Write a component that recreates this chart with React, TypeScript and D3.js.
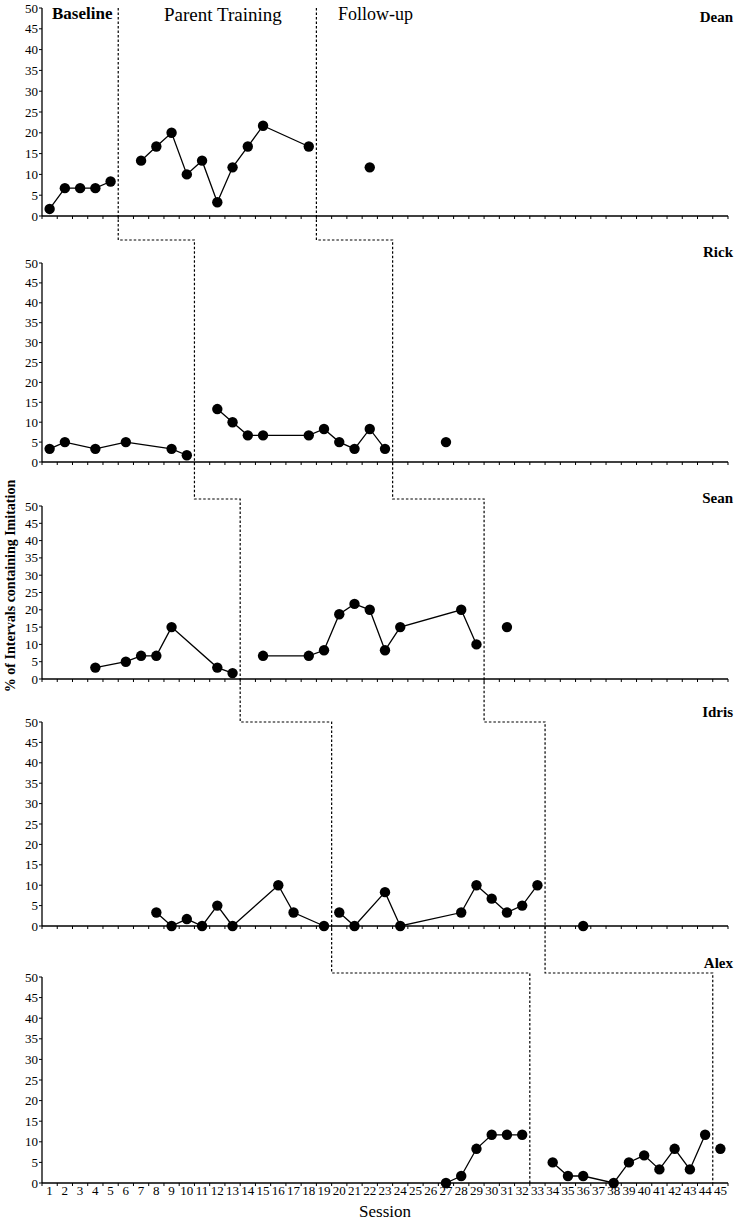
import React from "react";
import * as d3 from "d3";

// ---------- data ----------
const participants = ["Dean", "Rick", "Sean", "Idris", "Alex"];
const phaseLabels = ["Baseline", "Parent Training", "Follow-up"];
const yTicks = [0, 5, 10, 15, 20, 25, 30, 35, 40, 45, 50];
const sessionTicks = d3.range(1, 46);

const deanSessions = [1, 2, 3, 4, 5, 7, 8, 9, 10, 11, 12, 13, 14, 15, 18, 22];
const deanValues = [1.7, 6.7, 6.7, 6.7, 8.3, 13.3, 16.7, 20, 10, 13.3, 3.3, 11.7, 16.7, 21.7, 16.7, 11.7];
const deanPhases = [0, 0, 0, 0, 0, 1, 1, 1, 1, 1, 1, 1, 1, 1, 1, 2];

const rickSessions = [1, 2, 4, 6, 9, 10, 12, 13, 14, 15, 18, 19, 20, 21, 22, 23, 27];
const rickValues = [3.3, 5, 3.3, 5, 3.3, 1.7, 13.3, 10, 6.7, 6.7, 6.7, 8.3, 5, 3.3, 8.3, 3.3, 5];
const rickPhases = [0, 0, 0, 0, 0, 0, 1, 1, 1, 1, 1, 1, 1, 1, 1, 1, 2];

const seanSessions = [4, 6, 7, 8, 9, 12, 13, 15, 18, 19, 20, 21, 22, 23, 24, 28, 29, 31];
const seanValues = [3.3, 5, 6.7, 6.7, 15, 3.3, 1.7, 6.7, 6.7, 8.3, 18.7, 21.7, 20, 8.3, 15, 20, 10, 15];
const seanPhases = [0, 0, 0, 0, 0, 0, 0, 1, 1, 1, 1, 1, 1, 1, 1, 1, 1, 2];

const idrisSessions = [8, 9, 10, 11, 12, 13, 16, 17, 19, 20, 21, 23, 24, 28, 29, 30, 31, 32, 33, 36];
const idrisValues = [3.3, 0, 1.7, 0, 5, 0, 10, 3.3, 0, 3.3, 0, 8.3, 0, 3.3, 10, 6.7, 3.3, 5, 10, 0];
const idrisPhases = [0, 0, 0, 0, 0, 0, 0, 0, 0, 1, 1, 1, 1, 1, 1, 1, 1, 1, 1, 2];

const alexSessions = [27, 28, 29, 30, 31, 32, 34, 35, 36, 38, 39, 40, 41, 42, 43, 44, 45];
const alexValues = [0, 1.7, 8.3, 11.7, 11.7, 11.7, 5, 1.7, 1.7, 0, 5, 6.7, 3.3, 8.3, 3.3, 11.7, 8.3];
const alexPhases = [0, 0, 0, 0, 0, 0, 1, 1, 1, 1, 1, 1, 1, 1, 1, 1, 2];

// last session of baseline / parent training for each participant
const baselineEnd = [5, 10, 13, 19, 32];
const trainingEnd = [18, 23, 29, 33, 44];

const series = [
  { s: deanSessions, v: deanValues, p: deanPhases },
  { s: rickSessions, v: rickValues, p: rickPhases },
  { s: seanSessions, v: seanValues, p: seanPhases },
  { s: idrisSessions, v: idrisValues, p: idrisPhases },
  { s: alexSessions, v: alexValues, p: alexPhases },
];

// ---------- layout ----------
const W = 736;
const H = 1221;
const X0 = 42;
const X1 = 728;
const panels = [
  { top: 8, bottom: 216, nameY: 22 },
  { top: 263, bottom: 462, nameY: 257 },
  { top: 506, bottom: 679, nameY: 503 },
  { top: 722, bottom: 926, nameY: 717 },
  { top: 977, bottom: 1183, nameY: 968 },
];
const stepY = [240, 499, 722, 973];

const FONT = "'Liberation Serif', 'Times New Roman', serif";

export default function App() {
  const xB = d3.scaleLinear().domain([0, 45]).range([X0, X1]);
  const xc = (s: number) => xB(s - 0.5);

  const phasePath = (ends: number[]) => {
    const pts: [number, number][] = [];
    ends.forEach((e, i) => {
      const x = xB(e);
      const yStart = i === 0 ? panels[0].top : stepY[i - 1];
      const yEnd = i < ends.length - 1 ? stepY[i] : panels[i].bottom;
      pts.push([x, yStart]);
      pts.push([x, yEnd]);
    });
    return d3.line()(pts) as string;
  };

  return (
    <svg
      width={W}
      height={H}
      style={{ position: "absolute", left: 0, top: 0, background: "#fff" }}
      fontFamily={FONT}
    >
      <rect x={0} y={0} width={W} height={H} fill="#fff" />
      {panels.map((pn, i) => {
        const y = d3.scaleLinear().domain([0, 50]).range([pn.bottom, pn.top]);
        const d = series[i];
        const pts = d.s.map((s, k) => ({ x: xc(s), y: y(d.v[k]), p: d.p[k] }));
        const groups = d3.groups(pts, (q) => q.p);
        const line = d3
          .line<{ x: number; y: number }>()
          .x((q) => q.x)
          .y((q) => q.y);
        return (
          <g key={i}>
            {/* y axis */}
            <line x1={X0} x2={X0} y1={pn.top} y2={pn.bottom} stroke="#000" strokeWidth={1.3} />
            {yTicks.map((t) => (
              <g key={t}>
                <line x1={X0 - 3} x2={X0} y1={y(t)} y2={y(t)} stroke="#000" strokeWidth={1} />
                <text x={38} y={y(t)} dy="0.35em" textAnchor="end" fontSize={13} fill="#000">
                  {t}
                </text>
              </g>
            ))}
            {/* x axis */}
            <line x1={X0} x2={X1} y1={pn.bottom} y2={pn.bottom} stroke="#000" strokeWidth={1.3} />
            {d3.range(0, 46).map((k) => (
              <line
                key={k}
                x1={xB(k)}
                x2={xB(k)}
                y1={pn.bottom}
                y2={pn.bottom + 3}
                stroke="#000"
                strokeWidth={1}
              />
            ))}
            {/* data */}
            {groups.map(([ph, g]) =>
              g.length > 1 ? (
                <path key={"l" + ph} d={line(g) as string} fill="none" stroke="#000" strokeWidth={1.3} />
              ) : null
            )}
            {pts.map((q, k) => (
              <circle key={k} cx={q.x} cy={q.y} r={5.2} fill="#000" />
            ))}
            <text
              x={733}
              y={pn.nameY}
              textAnchor="end"
              fontSize={15}
              fontWeight="bold"
              fill="#000"
            >
              {participants[i]}
            </text>
          </g>
        );
      })}

      {/* phase change lines */}
      <path d={phasePath(baselineEnd)} fill="none" stroke="#000" strokeWidth={1.2} strokeDasharray="2.5,2" />
      <path d={phasePath(trainingEnd)} fill="none" stroke="#000" strokeWidth={1.2} strokeDasharray="2.5,2" />

      {/* phase labels */}
      <text x={52} y={19} fontSize={17} fontWeight="bold" fill="#000">
        {phaseLabels[0]}
      </text>
      <text x={164} y={21} fontSize={19} fill="#000">
        {phaseLabels[1]}
      </text>
      <text x={338} y={20} fontSize={18} fill="#000">
        {phaseLabels[2]}
      </text>

      {/* x tick labels on bottom panel */}
      {sessionTicks.map((s) => (
        <text key={s} x={xc(s)} y={1195} textAnchor="middle" fontSize={13} fill="#000">
          {s}
        </text>
      ))}
      <text x={(X0 + X1) / 2} y={1217} textAnchor="middle" fontSize={17} fill="#000">
        Session
      </text>

      {/* y axis title */}
      <text
        transform={`translate(15,586) rotate(-90)`}
        textAnchor="middle"
        fontSize={14}
        fontWeight="bold"
        fill="#000"
      >
        % of Intervals containing Imitation
      </text>
    </svg>
  );
}
